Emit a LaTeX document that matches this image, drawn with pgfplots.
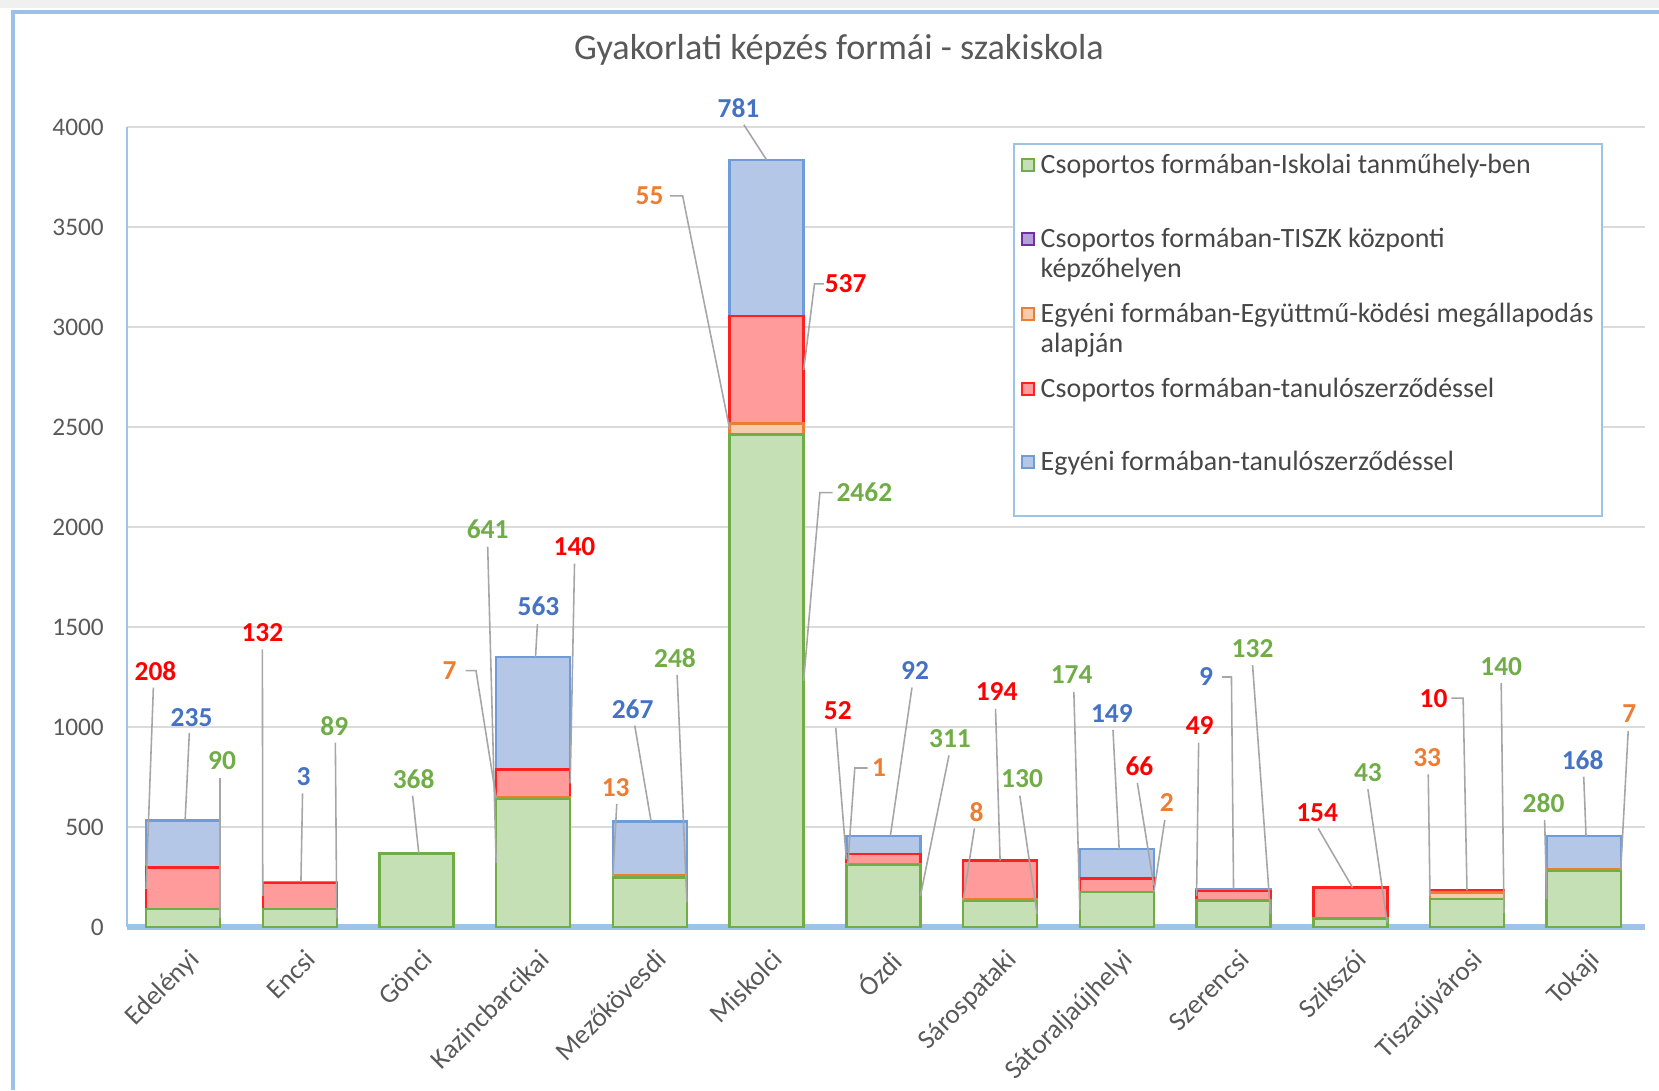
\documentclass[border=0pt]{standalone}
\usepackage{pgfplots}
\usepackage{pgfplotstable}
\pgfplotsset{compat=1.18}
\usepackage{fontspec}
\setmainfont{Carlito}
\definecolor{gfill}{HTML}{C5E0B4}
\definecolor{gline}{HTML}{70AD47}
\definecolor{rfill}{HTML}{FF9B9B}
\definecolor{rline}{HTML}{FF2020}
\definecolor{bfill}{HTML}{B4C7E7}
\definecolor{bline}{HTML}{6F9BD8}
\definecolor{ofill}{HTML}{F8CBAD}
\definecolor{oline}{HTML}{ED7D31}
\definecolor{pfill}{HTML}{B4A0D6}
\definecolor{pline}{HTML}{7030A0}
\definecolor{cg}{HTML}{70AD47}
\definecolor{cr}{HTML}{FF0000}
\definecolor{cb}{HTML}{4472C4}
\definecolor{co}{HTML}{ED7D31}
\definecolor{txt}{HTML}{595959}
\definecolor{axblue}{HTML}{9DC3E6}
\definecolor{frameblue}{HTML}{9CC0E8}
\definecolor{leadc}{HTML}{A6A6A6}

\pgfplotstableread{
x green purple orange red blue
0 90 0 0 208 235
1 89 0 0 132 3
2 368 0 0 0 0
3 641 0 7 140 563
4 248 0 13 0 267
5 2462 0 55 537 781
6 311 0 1 52 92
7 130 0 8 194 0
8 174 0 2 66 149
9 132 0 0 49 9
10 43 0 0 154 0
11 140 0 33 10 0
12 280 0 7 0 168
}\data

\begin{document}
\begin{tikzpicture}[
  dl/.style={font=\fontsize{7.8}{9}\selectfont\bfseries, inner sep=0pt, text depth=0pt, anchor=center},
  leader/.style={draw=leadc, line width=0.45pt},
  legtxt/.style={font=\fontsize{7.95}{9}\selectfont, text=black!72, anchor=base west, inner sep=0pt}
]
\useasboundingbox (0,0) rectangle (16.59,10.91);
% spreadsheet strip and chart frame
\fill[gray!12] (0,10.83) rectangle (16.59,10.91);
\draw[frameblue, line width=0.9pt] (0.13,0.01) -- (0.13,10.79) -- (16.7,10.79);

\begin{axis}[
  at={(1.27cm,1.64cm)}, anchor=south west,
  scale only axis, width=15.18cm, height=8cm,
  xmin=-0.48, xmax=12.525, ymin=0, ymax=4000,
  clip=false,
  xtick={0,...,12},
  xticklabels={Edelényi,Encsi,Gönci,Kazincbarcikai,Mezőkövesdi,Miskolci,Ózdi,Sárospataki,Sátoraljaújhelyi,Szerencsi,Szikszói,Tiszaújvárosi,Tokaji},
  ytick={0,500,...,4000},
  ymajorgrids, grid style={gray!28, line width=0.6pt},
  axis x line=bottom, axis y line=left,
  axis line style={-},
  x axis line style={axblue, line width=1.6pt},
  y axis line style={axblue, line width=0.8pt},
  tick style={draw=none},
  /pgf/number format/1000 sep={},
  /pgf/number format/assume math mode=true,
  yticklabel style={font=\fontsize{7.2}{8}\selectfont, text=txt, anchor=east, inner sep=0pt, xshift=-0.15cm},
  xticklabel style={font=\fontsize{7.7}{9}\selectfont, text=txt, rotate=45, anchor=north east, inner sep=0pt, xshift=-0.06cm, yshift=-0.12cm},
  every axis plot/.append style={ybar, bar width=0.634, bar shift=0pt, line width=0.7pt},
]
\addplot[fill=bfill, draw=bline] table[x=x, y expr=\thisrow{green}+\thisrow{purple}+\thisrow{orange}+\thisrow{red}+\thisrow{blue}] {\data};
\addplot[fill=rfill, draw=rline] table[x=x, y expr=\thisrow{green}+\thisrow{purple}+\thisrow{orange}+\thisrow{red}] {\data};
\addplot[fill=ofill, draw=oline] table[x=x, y expr=\thisrow{green}+\thisrow{purple}+\thisrow{orange}] {\data};
\addplot[fill=gfill, draw=gline] table[x=x, y=green] {\data};

% leader lines
\draw[leader] (axis cs:-0.254,1197) -- (axis cs:-0.317,191);
\draw[leader] (axis cs:0.054,970) -- (axis cs:0.018,533);
\draw[leader] (axis cs:0.317,747) -- (axis cs:0.317,45);
\draw[leader] (axis cs:0.680,1388) -- (axis cs:0.683,155);
\draw[leader] (axis cs:1.024,668) -- (axis cs:1.01,224);
\draw[leader] (axis cs:1.305,922) -- (axis cs:1.317,44);
\draw[leader] (axis cs:1.967,657) -- (axis cs:2.02,368);
\draw[leader] (axis cs:2.610,1902) -- (axis cs:2.683,320);
\draw[leader] (axis cs:2.42,1282) -- (axis cs:2.51,1282) -- (axis cs:2.683,644);
\draw[leader] (axis cs:3.036,1515) -- (axis cs:3.02,1351);
\draw[leader] (axis cs:3.354,1817) -- (axis cs:3.317,718);
\draw[leader] (axis cs:3.716,615) -- (axis cs:3.683,254);
\draw[leader] (axis cs:3.870,1007) -- (axis cs:4.01,528);
\draw[leader] (axis cs:4.233,1261) -- (axis cs:4.317,124);
\draw[leader] (axis cs:4.805,4011) -- (axis cs:5.0,3835);
\draw[leader] (axis cs:4.17,3656) -- (axis cs:4.28,3656) -- (axis cs:4.683,2490);
\draw[leader] (axis cs:5.49,3216) -- (axis cs:5.41,3216) -- (axis cs:5.317,2785);
\draw[leader] (axis cs:5.565,2172) -- (axis cs:5.456,2172) -- (axis cs:5.317,1231);
\draw[leader] (axis cs:5.592,996) -- (axis cs:5.683,338);
\draw[leader] (axis cs:5.864,795) -- (axis cs:5.755,795) -- (axis cs:5.695,311);
\draw[leader] (axis cs:6.245,1197) -- (axis cs:6.06,456);
\draw[leader] (axis cs:6.562,858) -- (axis cs:6.317,155);
\draw[leader] (axis cs:6.780,493) -- (axis cs:6.683,134);
\draw[leader] (axis cs:6.961,1091) -- (axis cs:7.0,332);
\draw[leader] (axis cs:7.169,657) -- (axis cs:7.317,65);
\draw[leader] (axis cs:7.632,1176) -- (axis cs:7.683,87);
\draw[leader] (axis cs:7.967,985) -- (axis cs:8.02,391);
\draw[leader] (axis cs:8.176,720) -- (axis cs:8.317,209);
\draw[leader] (axis cs:8.411,535) -- (axis cs:8.317,175);
\draw[leader] (axis cs:8.701,922) -- (axis cs:8.683,156);
\draw[leader] (axis cs:8.900,1250) -- (axis cs:8.982,1250) -- (axis cs:9.0,190);
\draw[leader] (axis cs:9.163,1309) -- (axis cs:9.317,66);
\draw[leader] (axis cs:9.725,493) -- (axis cs:10.02,197);
\draw[leader] (axis cs:10.151,689) -- (axis cs:10.317,21);
\draw[leader] (axis cs:10.668,763) -- (axis cs:10.683,156);
\draw[leader] (axis cs:10.867,1144) -- (axis cs:10.967,1144) -- (axis cs:11.0,183);
\draw[leader] (axis cs:11.293,1219) -- (axis cs:11.317,70);
\draw[leader] (axis cs:11.665,535) -- (axis cs:11.683,140);
\draw[leader] (axis cs:12.0,752) -- (axis cs:12.02,455);
\draw[leader] (axis cs:12.381,980) -- (axis cs:12.317,284);

% data labels
\node[dl,text=cr] at (axis cs:-0.236,1282) {208};
\node[dl,text=cb] at (axis cs:0.073,1049) {235};
\node[dl,text=cg] at (axis cs:0.335,832) {90};
\node[dl,text=cr] at (axis cs:0.680,1473) {132};
\node[dl,text=cb] at (axis cs:1.033,752) {3};
\node[dl,text=cg] at (axis cs:1.296,1007) {89};
\node[dl,text=cg] at (axis cs:1.976,742) {368};
\node[dl,text=cg] at (axis cs:2.610,1987) {641};
\node[dl,text=co] at (axis cs:2.284,1282) {7};
\node[dl,text=cb] at (axis cs:3.045,1605) {563};
\node[dl,text=cr] at (axis cs:3.354,1902) {140};
\node[dl,text=co] at (axis cs:3.707,699) {13};
\node[dl,text=cb] at (axis cs:3.852,1091) {267};
\node[dl,text=cg] at (axis cs:4.215,1346) {248};
\node[dl,text=cb] at (axis cs:4.759,4095) {781};
\node[dl,text=co] at (axis cs:3.997,3656) {55};
\node[dl,text=cr] at (axis cs:5.677,3216) {537};
\node[dl,text=cg] at (axis cs:5.837,2172) {2462};
\node[dl,text=cr] at (axis cs:5.610,1081) {52};
\node[dl,text=co] at (axis cs:5.964,795) {1};
\node[dl,text=cb] at (axis cs:6.272,1282) {92};
\node[dl,text=cg] at (axis cs:6.571,943) {311};
\node[dl,text=co] at (axis cs:6.798,577) {8};
\node[dl,text=cr] at (axis cs:6.970,1176) {194};
\node[dl,text=cg] at (axis cs:7.188,742) {130};
\node[dl,text=cg] at (axis cs:7.613,1261) {174};
\node[dl,text=cb] at (axis cs:7.958,1065) {149};
\node[dl,text=cr] at (axis cs:8.194,805) {66};
\node[dl,text=co] at (axis cs:8.429,620) {2};
\node[dl,text=cr] at (axis cs:8.710,1007) {49};
\node[dl,text=cb] at (axis cs:8.765,1250) {9};
\node[dl,text=cg] at (axis cs:9.163,1393) {132};
\node[dl,text=cr] at (axis cs:9.716,572) {154};
\node[dl,text=cg] at (axis cs:10.151,774) {43};
\node[dl,text=co] at (axis cs:10.659,848) {33};
\node[dl,text=cr] at (axis cs:10.713,1144) {10};
\node[dl,text=cg] at (axis cs:11.293,1303) {140};
\node[dl,text=cg] at (axis cs:11.656,620) {280};
\node[dl,text=cb] at (axis cs:11.991,837) {168};
\node[dl,text=co] at (axis cs:12.390,1065) {7};
\end{axis}

% title
\node[font=\fontsize{10.3}{12}\selectfont, text=txt, anchor=center] at (8.39,10.41) {Gyakorlati képzés formái - szakiskola};

% legend
\draw[axblue, line width=0.8pt, fill=white] (10.14,5.75) rectangle (16.02,9.47);
\draw[gline, fill=gfill, line width=0.5pt] (10.22,9.20) rectangle (10.34,9.32);
\draw[pline, fill=pfill, line width=0.5pt] (10.22,8.46) rectangle (10.34,8.58);
\draw[oline, fill=ofill, line width=0.5pt] (10.22,7.71) rectangle (10.34,7.83);
\draw[rline, fill=rfill, line width=0.5pt] (10.22,6.96) rectangle (10.34,7.08);
\draw[bline, fill=bfill, line width=0.5pt] (10.22,6.23) rectangle (10.34,6.35);
\node[legtxt] at (10.40,9.17) {Csoportos formában-Iskolai tanműhely-ben};
\node[legtxt] at (10.40,8.43) {Csoportos formában-TISZK központi};
\node[legtxt] at (10.40,8.13) {képzőhelyen};
\node[legtxt] at (10.40,7.68) {Egyéni formában-Együttmű-ködési megállapodás};
\node[legtxt] at (10.40,7.38) {alapján};
\node[legtxt] at (10.40,6.93) {Csoportos formában-tanulószerződéssel};
\node[legtxt] at (10.40,6.20) {Egyéni formában-tanulószerződéssel};
\end{tikzpicture}
\end{document}
